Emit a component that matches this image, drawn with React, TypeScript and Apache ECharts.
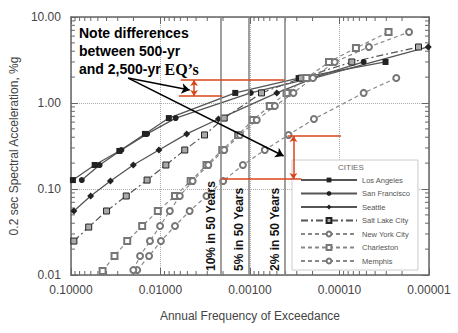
import React, { useEffect, useRef } from 'react';
import * as echarts from 'echarts';

const FONT = "'Liberation Sans', Arial, sans-serif";

// [annual frequency of exceedance, spectral acceleration]
const losAngeles = [[0.095, 0.127], [0.0543, 0.19], [0.0288, 0.277], [0.0149, 0.437], [0.00806, 0.668], [0.00146, 1.31], [0.000286, 1.95], [0.0000306, 3.0]];
const sanFrancisco = [[0.0756, 0.127], [0.0478, 0.19], [0.0273, 0.284], [0.0141, 0.437], [0.00676, 0.668], [0.00098, 1.31], [0.000208, 1.95], [0.0000537, 3.0]];
const seattle = [[0.0927, 0.0555], [0.0602, 0.0829], [0.0362, 0.124], [0.0201, 0.19], [0.0104, 0.284], [0.00509, 0.437], [0.00225, 0.651], [0.000501, 1.31], [0.000193, 1.95], [0.0000102, 4.48]];
const saltLakeCity = [[0.0927, 0.0248], [0.0633, 0.0361], [0.04, 0.0555], [0.0241, 0.0829], [0.0141, 0.127], [0.0087, 0.19], [0.00535, 0.284], [0.00322, 0.425], [0.00194, 0.668], [0.000743, 1.31], [0.000266, 1.95], [0.0000728, 3.0], [0.0000131, 4.48]];
const newYorkCity = [[0.0182, 0.0114], [0.0134, 0.0166], [0.00988, 0.0248], [0.00688, 0.0371], [0.00472, 0.0555], [0.00306, 0.0829], [0.00199, 0.124], [0.0012, 0.19], [0.000683, 0.284], [0.000371, 0.425], [0.000193, 0.651], [0.0000537, 1.31], [0.0000232, 1.95]];
const charleston = [[0.0443, 0.0111], [0.0326, 0.0166], [0.0235, 0.0248], [0.016, 0.0371], [0.0107, 0.0555], [0.00688, 0.0829], [0.0046, 0.124], [0.00306, 0.19], [0.00204, 0.284], [0.00136, 0.425], [0.00093, 0.634], [0.0006, 0.923], [0.00039, 1.31], [0.000234, 1.95], [0.000131, 3.0], [0.0000655, 4.36], [0.0000283, 6.69]];
const memphis = [[0.0201, 0.0114], [0.0169, 0.0166], [0.0131, 0.0248], [0.0101, 0.0371], [0.00786, 0.0555], [0.00608, 0.0829], [0.00437, 0.124], [0.00292, 0.19], [0.00194, 0.284], [0.00129, 0.425], [0.00084, 0.634], [0.000527, 0.923], [0.000327, 1.31], [0.000198, 1.95], [0.000113, 3.0], [0.0000469, 4.48], [0.0000167, 6.69]];

const cityNames = ['Los Angeles', 'San Francisco', 'Seattle', 'Salt Lake City', 'New York City', 'Charleston', 'Memphis'];

const xMin = 0.00001;
const xMax = 0.1;
const yMin = 0.01;
const yMax = 10;
const xDecades = [0.00001, 0.0001, 0.001, 0.01];
const yDecades = [0.01, 0.1, 1];
const minorMultipliers = [2, 3, 4, 5, 6, 7, 8, 9];

const refLines = [
  { label: '10% in 50 Years', freq: 0.002105 },
  { label: '5% in 50 Years', freq: 0.001026 },
  { label: '2% in 50 Years', freq: 0.000404 },
];

const noteArrows = [
  [[0.0229, 1.95], [0.00472, 1.42]],
  [[0.0229, 1.95], [0.000421, 0.242]],
];
const redLines = [
  [[0.00594, 1.85], [0.00041, 1.85]],
  [[0.00625, 1.206], [0.00204, 1.206]],
  [[0.00038, 0.413], [0.0000962, 0.413]],
  [[0.00209, 0.1307], [0.000266, 0.1307]],
];
const redArrows = [
  [[0.00421, 1.85], [0.00421, 1.206]],
  [[0.000327, 0.413], [0.000327, 0.1307]],
];

const noteText = 'Note differences\nbetween 500-yr\nand 2,500-yr {q|EQ’s}';

export default function App() {
  const ref = useRef<HTMLDivElement>(null);
  useEffect(() => {
    if (!ref.current) return;
    const chart = echarts.init(ref.current, undefined, { renderer: 'svg' });

    const xMinor: number[] = [];
    xDecades.forEach((d) => minorMultipliers.forEach((m) => xMinor.push(d * m)));
    const yMinor: number[] = [];
    yDecades.forEach((d) => minorMultipliers.forEach((m) => yMinor.push(d * m)));

    const axisLine = { show: true, onZero: false, lineStyle: { color: '#666', width: 1.5 } };
    const tickStyle = { color: '#666', width: 1 };

    const solid = (name: string, data: number[][], symbol: string, size: number) => ({
      type: 'line', name, data, symbol, symbolSize: size, showSymbol: true,
      itemStyle: { color: '#222' },
      lineStyle: { color: '#555', width: 1.3 },
      z: 3,
    });
    const dashed = (name: string, data: number[][], symbol: string) => ({
      type: 'line', name, data, symbol, symbolSize: 6, showSymbol: true,
      itemStyle: { color: '#777' },
      lineStyle: { color: '#888', width: 1.2, type: [4, 3] },
      z: 3,
    });

    const option: any = {
      animation: false,
      backgroundColor: '#fff',
      textStyle: { fontFamily: FONT },
      grid: { left: 66, right: 29, top: 17, bottom: 58 },
      xAxis: [
        {
          type: 'log', logBase: 10, min: xMin, max: xMax, inverse: true, position: 'bottom',
          name: 'Annual Frequency of Exceedance', nameLocation: 'middle', nameGap: 35,
          nameTextStyle: { fontSize: 12, color: '#444', fontFamily: FONT },
          axisLine, axisTick: { inside: true, length: 7, lineStyle: tickStyle },
          axisLabel: { fontSize: 12, color: '#444', margin: 9, fontFamily: FONT, showMinLabel: true, showMaxLabel: true, formatter: (v: number) => Number(v).toFixed(5) },
          splitLine: { show: true, lineStyle: { type: 'dotted', color: '#aaa', width: 1 } },
        },
        {
          type: 'log', logBase: 10, min: xMin, max: xMax, inverse: true, position: 'top',
          axisLine, axisTick: { inside: true, length: 7, lineStyle: tickStyle },
          axisLabel: { show: false }, splitLine: { show: false },
        },
      ],
      yAxis: [
        {
          type: 'log', logBase: 10, min: yMin, max: yMax, position: 'left',
          name: '0.2 sec Spectral Acceleration, %g', nameLocation: 'middle', nameGap: 40,
          nameTextStyle: { fontSize: 12, color: '#444', fontFamily: FONT },
          axisLine, axisTick: { inside: true, length: 7, lineStyle: tickStyle },
          axisLabel: { fontSize: 12, color: '#444', margin: 10, fontFamily: FONT, showMinLabel: true, showMaxLabel: true, formatter: (v: number) => Number(v).toFixed(2) },
          splitLine: { show: true, lineStyle: { type: 'dotted', color: '#aaa', width: 1 } },
        },
        {
          type: 'log', logBase: 10, min: yMin, max: yMax, position: 'right',
          axisLine, axisTick: { inside: true, length: 7, lineStyle: tickStyle },
          axisLabel: { show: false }, splitLine: { show: false },
        },
      ],
      legend: {
        data: cityNames,
        orient: 'vertical', left: 292, top: 160,
        padding: [16, 8, 5, 8],
        itemWidth: 56, itemHeight: 6, itemGap: 5.5,
        backgroundColor: '#fff', borderColor: '#ccc', borderWidth: 1,
        textStyle: { fontSize: 7.5, color: '#555', fontFamily: FONT },
        selectedMode: false,
      },
      graphic: [
        {
          type: 'text', left: 79, top: 24, z: 100,
          style: {
            text: noteText, font: `bold 14px ${FONT}`, fill: '#000', lineHeight: 18,
            rich: { q: { fontFamily: "'Liberation Serif', 'Times New Roman', serif", fontWeight: 'bold', fontSize: 16, fill: '#000', lineHeight: 18 } },
          },
        },
        { type: 'text', left: 338, top: 163, z: 100, style: { text: 'CITIES', font: `8px ${FONT}`, fill: '#666' } },
      ],
      series: [
        solid(cityNames[0], losAngeles, 'rect', 6),
        solid(cityNames[1], sanFrancisco, 'circle', 6),
        solid(cityNames[2], seattle, 'diamond', 7),
        {
          type: 'line', name: cityNames[3], data: saltLakeCity, symbol: 'rect', symbolSize: 6,
          itemStyle: { color: '#aaa', borderColor: '#222', borderWidth: 1 },
          lineStyle: { color: '#555', width: 1.2, type: [7, 3, 2, 3] }, z: 3,
        },
        dashed(cityNames[4], newYorkCity, 'emptyCircle'),
        dashed(cityNames[5], charleston, 'emptyRect'),
        dashed(cityNames[6], memphis, 'emptyCircle'),
        {
          type: 'custom', name: 'xMinorTicks', silent: true, clip: false,
          data: xMinor.map((v) => [v, 1]), encode: { x: 0, y: 1 },
          renderItem: (params: any, api: any) => {
            const cs = params.coordSys;
            const px = api.coord([api.value(0), 1])[0];
            const b = cs.y + cs.height;
            return {
              type: 'group', children: [
                { type: 'line', shape: { x1: px, y1: b, x2: px, y2: b - 4 }, style: { stroke: '#666', lineWidth: 1 } },
                { type: 'line', shape: { x1: px, y1: cs.y, x2: px, y2: cs.y + 4 }, style: { stroke: '#666', lineWidth: 1 } },
              ],
            };
          },
        },
        {
          type: 'custom', name: 'yMinorTicks', silent: true, clip: false,
          data: yMinor.map((v) => [0.01, v]), encode: { x: 0, y: 1 },
          renderItem: (params: any, api: any) => {
            const cs = params.coordSys;
            const py = api.coord([0.01, api.value(1)])[1];
            const r = cs.x + cs.width;
            return {
              type: 'group', children: [
                { type: 'line', shape: { x1: cs.x, y1: py, x2: cs.x + 4, y2: py }, style: { stroke: '#666', lineWidth: 1 } },
                { type: 'line', shape: { x1: r, y1: py, x2: r - 4, y2: py }, style: { stroke: '#666', lineWidth: 1 } },
              ],
            };
          },
        },
        {
          type: 'line', name: 'refLines', data: [], z: 2,
          markLine: {
            silent: true, symbol: 'none', animation: false,
            data: refLines.map((r) => [
              {
                coord: [r.freq, yMin], symbol: 'none',
                lineStyle: { color: '#888', width: 1.6, type: 'solid' },
                label: {
                  show: true, formatter: r.label, position: 'insideStartTop', distance: 4,
                  color: '#111', fontWeight: 'bold', fontSize: 12, fontFamily: FONT,
                },
              },
              { coord: [r.freq, yMax], symbol: 'none' },
            ]),
          },
        },
        {
          type: 'line', name: 'annotations', data: [], z: 10,
          markLine: {
            silent: true, symbol: 'none', animation: false, label: { show: false },
            data: [
              ...noteArrows.map((a) => [
                { coord: a[0], symbol: 'none', lineStyle: { color: '#000', width: 1.5, type: 'solid' } },
                { coord: a[1], symbol: 'arrow', symbolSize: 8 },
              ]),
              ...redLines.map((a) => [
                { coord: a[0], symbol: 'none', lineStyle: { color: '#d9441c', width: 1.5, type: 'solid' } },
                { coord: a[1], symbol: 'none' },
              ]),
              ...redArrows.map((a) => [
                { coord: a[0], symbol: 'arrow', symbolSize: 6, lineStyle: { color: '#d9441c', width: 1.5, type: 'solid' } },
                { coord: a[1], symbol: 'arrow', symbolSize: 6 },
              ]),
            ],
          },
        },
      ],
    };
    chart.setOption(option);
    return () => chart.dispose();
  }, []);
  return <div ref={ref} style={{ position: 'fixed', left: 0, top: 0, width: 458, height: 333 }} />;
}
